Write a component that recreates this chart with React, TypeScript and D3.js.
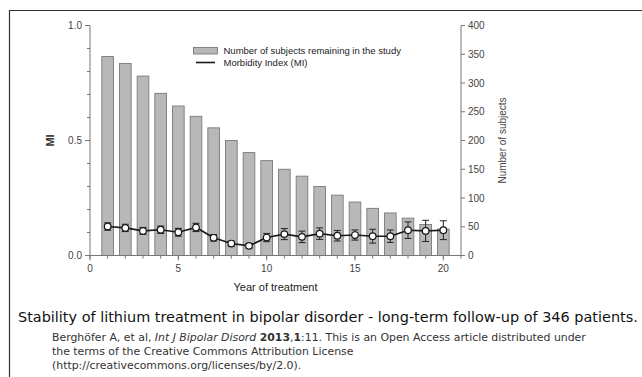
import React from "react";
import * as d3 from "d3";

const years = [1, 2, 3, 4, 5, 6, 7, 8, 9, 10, 11, 12, 13, 14, 15, 16, 17, 18, 19, 20];
const subjects = [346, 334, 312, 282, 260, 242, 222, 200, 179, 165, 150, 138, 120, 105, 93, 82, 74, 65, 54, 46];
const miValues = [0.126, 0.12, 0.107, 0.112, 0.101, 0.122, 0.077, 0.052, 0.042, 0.078, 0.093, 0.081, 0.095, 0.086, 0.089, 0.084, 0.084, 0.11, 0.107, 0.11];
const miErrors = [0.016, 0.016, 0.015, 0.016, 0.017, 0.018, 0.014, 0.011, 0.01, 0.018, 0.024, 0.025, 0.025, 0.023, 0.022, 0.03, 0.027, 0.036, 0.046, 0.041];
const xMajorTicks = [0, 5, 10, 15, 20];
const xMinorTicks = d3.range(0, 22);
const miMajorTicks = [0, 0.5, 1.0];
const miMinorTicks = d3.range(0, 11).map((d) => d / 10);
const subjectTicks = [0, 50, 100, 150, 200, 250, 300, 350, 400];

const W = 642;
const H = 377;
const L = 90;
const R = 461;
const T = 25.5;
const B = 255.5;

export default function App() {
  const x = d3.scaleLinear().domain([0, 21]).range([L, R]);
  const yMI = d3.scaleLinear().domain([0, 1]).range([B, T]);
  const yN = d3.scaleLinear().domain([0, 400]).range([B, T]);
  const barW = x(0.66) - x(0);
  const line = d3
    .line<number>()
    .x((_, i) => x(years[i]))
    .y((d) => yMI(d));
  const axisColor = "#777";
  const tickText = "#444";
  const chartFont = "'Liberation Sans', Arial, sans-serif";

  return (
    <svg
      width={W}
      height={H}
      viewBox={`0 0 ${W} ${H}`}
      style={{ position: "absolute", left: 0, top: 0, background: "#fff" }}
    >
      <rect x={0} y={0} width={W} height={H} fill="#fff" />
      <path d={`M9.5,${H} V10.5 H${W}`} fill="none" stroke="#333" strokeWidth={1.2} />

      {/* bars */}
      {years.map((yr, i) => (
        <rect
          key={"b" + yr}
          x={x(yr) - barW / 2}
          y={yN(subjects[i])}
          width={barW}
          height={yN(0) - yN(subjects[i])}
          fill="#b8b8b8"
          stroke="#7a7a7a"
          strokeWidth={0.9}
        />
      ))}

      {/* left axis */}
      <line x1={L} x2={L} y1={T} y2={B} stroke={axisColor} strokeWidth={1} />
      {miMinorTicks.map((t) => (
        <line key={"mm" + t} x1={L - 3} x2={L} y1={yMI(t)} y2={yMI(t)} stroke={axisColor} />
      ))}
      {miMajorTicks.map((t) => (
        <g key={"mj" + t}>
          <line x1={L - 5} x2={L} y1={yMI(t)} y2={yMI(t)} stroke={axisColor} />
          <text
            x={L - 8}
            y={yMI(t) + 3.5}
            textAnchor="end"
            fontSize={10}
            fontFamily={chartFont}
            fill={tickText}
          >
            {t.toFixed(1)}
          </text>
        </g>
      ))}
      <text
        transform={`translate(54,${(T + B) / 2}) rotate(-90)`}
        textAnchor="middle"
        fontSize={11}
        fontWeight="bold"
        fontFamily={chartFont}
        fill="#333"
      >
        MI
      </text>

      {/* right axis */}
      <line x1={R} x2={R} y1={T} y2={B} stroke={axisColor} strokeWidth={1} />
      {subjectTicks.map((t) => (
        <g key={"n" + t}>
          <line x1={R} x2={R + 4} y1={yN(t)} y2={yN(t)} stroke={axisColor} />
          <text x={R + 7} y={yN(t) + 3.5} fontSize={10} fontFamily={chartFont} fill={tickText}>
            {t}
          </text>
        </g>
      ))}
      <text
        transform={`translate(506,${(T + B) / 2}) rotate(-90)`}
        textAnchor="middle"
        fontSize={10}
        fontFamily={chartFont}
        fill="#444"
      >
        Number of subjects
      </text>

      {/* x axis */}
      <line x1={L} x2={R} y1={B} y2={B} stroke={axisColor} strokeWidth={1} />
      {xMinorTicks.map((t) => (
        <line key={"xm" + t} x1={x(t)} x2={x(t)} y1={B} y2={B + 3} stroke={axisColor} />
      ))}
      {xMajorTicks.map((t) => (
        <g key={"xj" + t}>
          <line x1={x(t)} x2={x(t)} y1={B} y2={B + 5} stroke={axisColor} />
          <text
            x={x(t)}
            y={B + 16}
            textAnchor="middle"
            fontSize={10}
            fontFamily={chartFont}
            fill={tickText}
          >
            {t}
          </text>
        </g>
      ))}
      <text
        x={(L + R) / 2}
        y={291}
        textAnchor="middle"
        fontSize={11}
        fontFamily={chartFont}
        fill="#222"
      >
        Year of treatment
      </text>

      {/* MI error bars */}
      {years.map((yr, i) => {
        const cx = x(yr);
        const lo = yMI(miValues[i] - miErrors[i]);
        const hi = yMI(miValues[i] + miErrors[i]);
        return (
          <g key={"e" + yr} stroke="#222" strokeWidth={1}>
            <line x1={cx} x2={cx} y1={lo} y2={hi} />
            <line x1={cx - 3.5} x2={cx + 3.5} y1={lo} y2={lo} />
            <line x1={cx - 3.5} x2={cx + 3.5} y1={hi} y2={hi} />
          </g>
        );
      })}
      <path d={line(miValues) || ""} fill="none" stroke="#1a1a1a" strokeWidth={1.6} />
      {years.map((yr, i) => (
        <circle
          key={"c" + yr}
          cx={x(yr)}
          cy={yMI(miValues[i])}
          r={3.3}
          fill="#fff"
          stroke="#1a1a1a"
          strokeWidth={1.2}
        />
      ))}

      {/* legend */}
      <rect x={193.5} y={47.5} width={24} height={6.5} fill="#b8b8b8" stroke="#7a7a7a" strokeWidth={0.9} />
      <text x={223.5} y={54} fontSize={9.5} fontFamily={chartFont} fill="#222">
        Number of subjects remaining in the study
      </text>
      <line x1={196} x2={215} y1={62.5} y2={62.5} stroke="#1a1a1a" strokeWidth={1.6} />
      <text x={223.5} y={66} fontSize={9.5} fontFamily={chartFont} fill="#222">
        Morbidity Index (MI)
      </text>

      {/* caption */}
      <text x={18} y={322} fontSize={14.45} fontFamily="'DejaVu Sans', sans-serif" fill="#111">
        Stability of lithium treatment in bipolar disorder - long-term follow-up of 346 patients.
      </text>
      <g fontSize={10.9} fontFamily="'DejaVu Sans', sans-serif" fill="#333">
        <text x={52} y={341}>
          Berghöfer A, et al, <tspan fontStyle="italic">Int J Bipolar Disord</tspan>{" "}
          <tspan fontWeight="bold">2013</tspan>,<tspan fontWeight="bold">1</tspan>:11. This is an Open Access article distributed under
        </text>
        <text x={52} y={355}>
          the terms of the Creative Commons Attribution License
        </text>
        <text x={52} y={369}>
          (http://creativecommons.org/licenses/by/2.0).
        </text>
      </g>
    </svg>
  );
}
